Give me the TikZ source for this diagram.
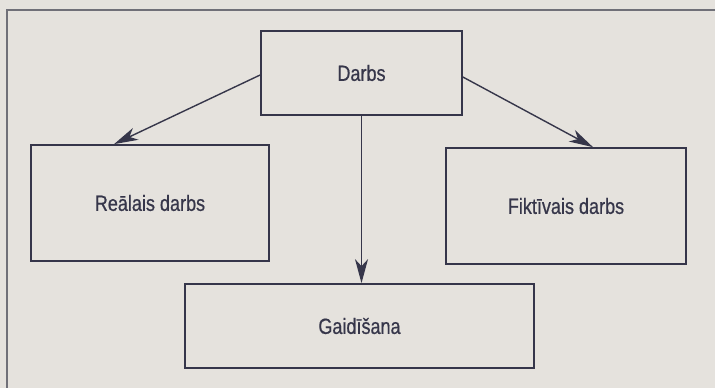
\documentclass[tikz,border=0pt]{standalone}
\usepackage{fontspec}
\setmainfont{Liberation Sans}[FakeStretch=0.82, FakeBold=0.6]
\usepackage{tikz}
\usetikzlibrary{arrows.meta}
\usetikzlibrary{positioning}
\definecolor{paper}{HTML}{E5E2DD}
\definecolor{ink}{HTML}{36364A}
\definecolor{rule}{HTML}{707078}
\pgfdeclarelayer{paperlayer}
\pgfdeclarelayer{nodelayer}
\pgfdeclarelayer{edgelayer}
\pgfsetlayers{paperlayer,edgelayer,nodelayer,main}
\tikzset{box/.style={draw=ink, line width=1.7pt, inner sep=0pt, text=ink,
text centered, font=\fontsize{22}{26}\selectfont, anchor=center}}
\tikzset{arr/.style={draw=ink, line width=1.4pt,
-{Stealth[length=24pt, width=13pt, inset=7pt]}}}
\tikzstyle{none}=[inner sep=0pt]

\begin{document}
\begin{tikzpicture}[x=1pt, y=1pt]
        \begin{pgfonlayer}{paperlayer}
            \useasboundingbox [fill=paper] (0, 0) rectangle (715, 388);
            \coordinate (5) at (7, 0);
            \coordinate (6) at (7, 378);
            \coordinate (7) at (715, 378);
            \draw [rule, line width=1.3pt] (5) -- (6) -- (7);
        \end{pgfonlayer}
        \begin{pgfonlayer}{nodelayer}
            \node [style=box, minimum width=201, minimum height=84] (0) at (361.5, 315) {Darbs};
            \node [style=box, minimum width=238, minimum height=116] (1) at (150, 185) {Reālais darbs};
            \node [style=box, minimum width=240, minimum height=116] (2) at (566, 182) {Fiktīvais darbs};
            \node [style=box, minimum width=349, minimum height=84] (3) at (359.5, 62) {Gaidīšana};
        \end{pgfonlayer}
        \begin{pgfonlayer}{edgelayer}
            \draw [style=arr] ([yshift=-2]0.west) to ([xshift=-36]1.north);
            \draw [style=arr] ([yshift=-4]0.east) to ([xshift=27]2.north);
            \draw [style=arr] (0.south) to (0.south |- 3.north);
        \end{pgfonlayer}
    \end{tikzpicture}
\end{document}
